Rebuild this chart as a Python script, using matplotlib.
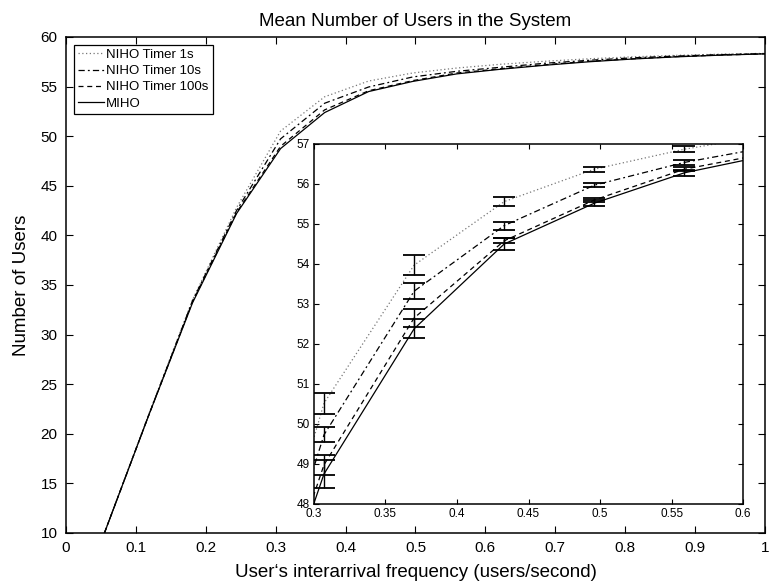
import matplotlib
matplotlib.use("Agg")
import matplotlib.pyplot as plt

plt.rcParams['font.family'] = ['Liberation Sans', 'DejaVu Sans']

# interarrival frequency (users/second)
freq = [0.055, 0.118, 0.181, 0.244, 0.307, 0.370, 0.433, 0.496,
        0.559, 0.622, 0.685, 0.748, 0.811, 0.874, 0.937, 1.0]

# mean number of users
niho_1s = [10.0, 21.9, 33.5, 42.8, 50.52, 53.97, 55.56, 56.37,
           56.87, 57.25, 57.55, 57.8, 58.0, 58.15, 58.27, 58.35]
niho_10s = [10.0, 21.8, 33.4, 42.5, 49.73, 53.32, 54.96, 55.97,
            56.54, 56.95, 57.35, 57.65, 57.9, 58.08, 58.22, 58.32]
niho_100s = [10.0, 21.8, 33.3, 42.3, 48.98, 52.65, 54.58, 55.6,
             56.37, 56.8, 57.2, 57.55, 57.8, 58.02, 58.18, 58.3]
miho = [10.0, 21.8, 33.2, 42.2, 48.75, 52.38, 54.5, 55.52,
        56.28, 56.75, 57.15, 57.5, 57.78, 58.0, 58.17, 58.3]

# confidence half-widths
err_1s = [0.1, 0.15, 0.2, 0.25, 0.26, 0.25, 0.11, 0.06,
          0.07, 0.05, 0.05, 0.04, 0.04, 0.03, 0.03, 0.03]
err_10s = [0.1, 0.15, 0.2, 0.22, 0.19, 0.2, 0.1, 0.05,
           0.06, 0.05, 0.05, 0.04, 0.04, 0.03, 0.03, 0.03]
err_100s = [0.1, 0.15, 0.2, 0.22, 0.25, 0.23, 0.06, 0.05,
            0.05, 0.05, 0.05, 0.04, 0.04, 0.03, 0.03, 0.03]
err_miho = [0.1, 0.15, 0.2, 0.25, 0.35, 0.24, 0.15, 0.08,
            0.07, 0.05, 0.05, 0.04, 0.04, 0.03, 0.03, 0.03]

labels = ['NIHO Timer 1s', 'NIHO Timer 10s', 'NIHO Timer 100s', 'MIHO']
styles = [(0, (1, 2)), (0, (5, 2.5, 1.5, 2.5)), (0, (4, 3)), '-']
colors = ['#777777', 'black', 'black', 'black']
series = [niho_1s, niho_10s, niho_100s, miho]
errors = [err_1s, err_10s, err_100s, err_miho]

fig = plt.figure(figsize=(7.69, 5.87), dpi=100)
ax = fig.add_axes([0.0858, 0.092, 0.909, 0.845])

for ys, ls, c, lab in zip(series, styles, colors, labels):
    ax.plot(freq, ys, linestyle=ls, color=c, linewidth=0.9, label=lab)

ax.set_xlim(0, 1)
ax.set_ylim(10, 60)
ax.set_xticks([i / 10 for i in range(11)])
ax.set_xticklabels(['0', '0.1', '0.2', '0.3', '0.4', '0.5', '0.6', '0.7', '0.8', '0.9', '1'])
ax.set_yticks(range(10, 61, 5))
ax.tick_params(direction='in', top=True, right=True, length=5, width=0.8,
               labelsize=11, pad=6)
for s in ax.spines.values():
    s.set_linewidth(1.1)

ax.set_title('Mean Number of Users in the System', fontsize=13.5, pad=8)
ax.set_xlabel('User\u2018s interarrival frequency (users/second)', fontsize=13.5, labelpad=6)
ax.set_ylabel('Number of Users', fontsize=13.5, labelpad=8)

leg = ax.legend(loc='upper left', fontsize=9.5, frameon=True, fancybox=False,
                edgecolor='black', framealpha=1, handlelength=2.0,
                handletextpad=0.15, labelspacing=0.3, borderpad=0.3,
                borderaxespad=0.6)
leg.get_frame().set_linewidth(0.9)

# zoomed inset with confidence intervals
ins = fig.add_axes([0.4083, 0.1414, 0.558, 0.6133])
for ys, es, ls, c in zip(series, errors, styles, colors):
    ins.plot(freq, ys, linestyle=ls, color=c, linewidth=0.9)
    ins.errorbar(freq, ys, yerr=es, fmt='none', ecolor='black',
                 elinewidth=1.0, capsize=8, capthick=1.3)

ins.set_xlim(0.3, 0.6)
ins.set_ylim(48, 57)
ins.set_xticks([0.3, 0.35, 0.4, 0.45, 0.5, 0.55, 0.6])
ins.set_xticklabels(['0.3', '0.35', '0.4', '0.45', '0.5', '0.55', '0.6'])
ins.set_yticks(range(48, 58))
ins.tick_params(direction='in', top=True, right=True, length=3.5, width=0.8,
                labelsize=8.5, pad=3)
for s in ins.spines.values():
    s.set_linewidth(1.1)

fig.savefig('out.png', dpi=100)
